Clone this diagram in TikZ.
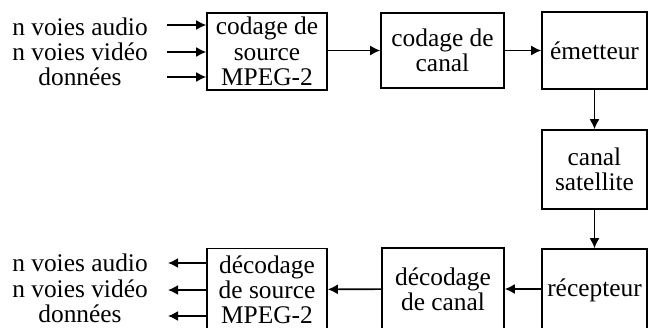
\documentclass[tikz,border=0pt]{standalone}
\usepackage{fontspec}
\setmainfont{Liberation Serif}
\usetikzlibrary{arrows.meta}
\begin{document}
\begin{tikzpicture}[x=0.5pt, y=-0.5pt,
    font=\fontsize{12.7}{12.6}\selectfont,
    bloc/.style={draw, line width=0.8pt, inner sep=0pt, align=center, minimum height=38.5pt},
    txt/.style={inner sep=0pt, align=center},
    fl/.style={line width=0.8pt, -{Latex[length=5pt, width=5pt]}}]
        \useasboundingbox (0,0) rectangle (654,327);
        \clip (0,0) rectangle (654,327);
        % Nodes (emission, top row)
        \node (ina) at (80,27) [txt] {n voies audio};
        \node (inv) at (80,52) [txt] {n voies vidéo};
        \node (ind) at (80,77) [txt] {données};
        \coordinate (pa) at (167,25);
        \coordinate (pv) at (167,52);
        \coordinate (pd) at (167,77);
        \node (cs) at (267,51.5) [bloc, minimum width=60pt] {codage de\\source\\MPEG-2};
        \node (cc) at (442.5,50.5) [bloc, minimum width=61.5pt, minimum height=37.5pt] {codage de\\canal};
        \node (em) at (594.5,50.5) [bloc, minimum width=52.5pt] {émetteur};
        % Nodes (satellite)
        \node (sat) at (594.5,169.5) [bloc, minimum width=52.5pt, minimum height=39.5pt] {canal\\satellite};
        % Nodes (reception, bottom row)
        \node (rec) at (594.5,290) [bloc, minimum width=52.5pt, minimum height=41pt] {récepteur};
        \node (dc) at (443,289) [bloc, minimum width=61pt, minimum height=41pt] {décodage\\de canal};
        \node (ds) at (267,289.5) [bloc, minimum width=60pt, minimum height=41pt] {décodage\\de source\\MPEG-2};
        \node (outa) at (80,263) [txt] {n voies audio};
        \node (outv) at (80,289) [txt] {n voies vidéo};
        \node (outd) at (80,314) [txt] {données};
        \coordinate (qa) at (168,263);
        \coordinate (qv) at (168,290);
        \coordinate (qd) at (168,316);
        % Edges
        \draw[fl] (pa) -- (cs.west |- pa);
        \draw[fl] (pv) -- (cs.west |- pv);
        \draw[fl] (pd) -- (cs.west |- pd);
        \draw[fl] (cs.east |- cc) -- (cc);
        \draw[fl] (cc) -- (em);
        \draw[fl] (em) -- (sat);
        \draw[fl] (sat) -- (rec);
        \draw[fl] (rec.west |- 0,289) -- (dc.east |- 0,289);
        \draw[fl] (dc) -- (ds);
        \draw[fl] (ds.west |- qa) -- (qa);
        \draw[fl] (ds.west |- qv) -- (qv);
        \draw[fl] (ds.west |- qd) -- (qd);
      \end{tikzpicture}
\end{document}
